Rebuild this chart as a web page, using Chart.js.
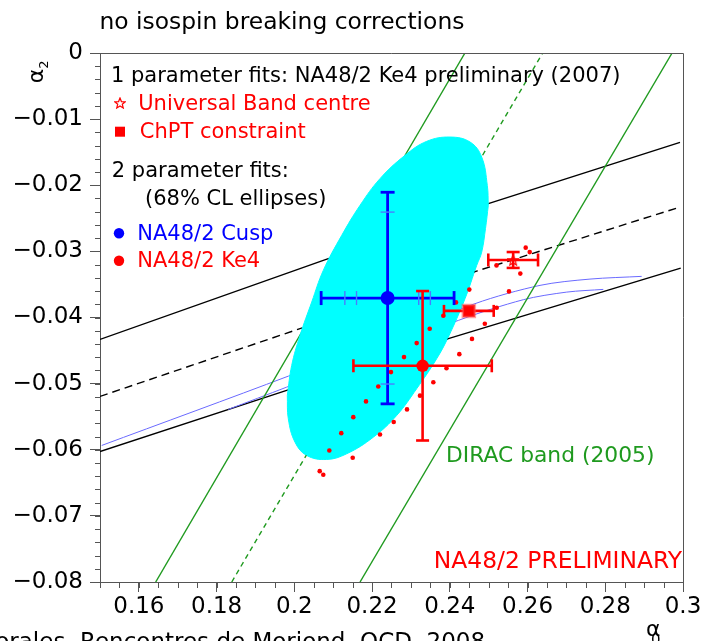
<!DOCTYPE html>
<html>
<head>
<meta charset="utf-8">
<script src="https://cdn.jsdelivr.net/npm/chart.js@4.4.1/dist/chart.umd.min.js"></script>
<style>
  html, body { margin: 0; padding: 0; background: #fff; }
  canvas { display: block; }
</style>
</head>
<body>
<canvas id="chart" width="708" height="641"></canvas>
<script>
// axis ticks
const xTicks = [0.16, 0.18, 0.2, 0.22, 0.24, 0.26, 0.28, 0.3];
const yTicks = [0, -0.01, -0.02, -0.03, -0.04, -0.05, -0.06, -0.07, -0.08];

// universal band (black), [a0, a2]
const ubUpper = [[0.15, -0.04331], [0.20745, -0.03137], [0.24991, -0.02278], [0.29923, -0.01351]];
const ubCentre = [[0.15, -0.05194], [0.20061, -0.04185], [0.24692, -0.03298], [0.29923, -0.02330]];
const ubLower = [[0.15, -0.06026], [0.19803, -0.05103], [0.24005, -0.04312], [0.29941, -0.03253]];

// cusp constraint curves (thin blue)
const cuspCurveUpper = [[0.15044, -0.05935], [0.19845, -0.04887], [0.24648, -0.03791], [0.26321, -0.03514], [0.27607, -0.03419], [0.28937, -0.03378]];
const cuspCurveLower = [[0.183, -0.0539], [0.19803, -0.05053], [0.24219, -0.04044], [0.25891, -0.03731], [0.27008, -0.03616], [0.27950, -0.03575]];

// DIRAC band (green)
const diracLeft = [[0.16433, -0.08], [0.2439, 0]];
const diracCentre = [[0.1839, -0.08], [0.2639, 0]];
const diracRight = [[0.2169, -0.08], [0.2972, 0]];

// 68% CL ellipse of the cusp fit, upper and lower arcs
const ellipseUpper = [[0.19819, -0.05179], [0.19932, -0.04725], [0.20146, -0.04271], [0.20447, -0.03767],
  [0.20745, -0.03288], [0.21219, -0.02758], [0.21690, -0.02304], [0.22204, -0.01900], [0.22847, -0.01548],
  [0.23406, -0.01336], [0.24005, -0.01271], [0.24520, -0.01346], [0.24821, -0.01573], [0.24965, -0.02002],
  [0.24991, -0.02304]];
const ellipseLower = [[0.19819, -0.05179], [0.19845, -0.05531], [0.20017, -0.05885], [0.20318, -0.06086],
  [0.20833, -0.06147], [0.21347, -0.06061], [0.22032, -0.05810], [0.22634, -0.05481], [0.23148, -0.05077],
  [0.23663, -0.04623], [0.23961, -0.04297], [0.24391, -0.03716], [0.24692, -0.03212], [0.24821, -0.03011],
  [0.24919, -0.02652], [0.24991, -0.02304]];

// Ke4 ellipse contour (red dots)
const ke4Band = [[0.20653, -0.06324], [0.20745, -0.06378], [0.20900, -0.06011], [0.21208, -0.05749],
  [0.21517, -0.05507], [0.21844, -0.05269], [0.22160, -0.05043], [0.22487, -0.04826], [0.22822, -0.04599],
  [0.23148, -0.04387], [0.23483, -0.04170], [0.23833, -0.03973], [0.24160, -0.03772], [0.24502, -0.03578],
  [0.25202, -0.03212], [0.25953, -0.02944],
  [0.21502, -0.06121], [0.22204, -0.05769], [0.22557, -0.05580], [0.22899, -0.05390], [0.23233, -0.05182],
  [0.23576, -0.04979], [0.23915, -0.04766], [0.24245, -0.04554], [0.24571, -0.04324], [0.24901, -0.04094],
  [0.25207, -0.03852], [0.25523, -0.03605], [0.25814, -0.03336], [0.26056, -0.03011]];

// fitted points: [a0, a2, error a0, error a2]
const cuspFit = [0.2240, -0.03706, 0.0171, 0.0160];
const cuspInnerA0 = [-0.011, -0.008, 0.008, 0.011];
const cuspInnerA2 = [-0.013, 0.013];
const ke4Fit = [0.2330, -0.0473, 0.0178, 0.0113];
const ubCentreFit = [0.2563, -0.0313, 0.0064, 0.0012];
const chptFit = [0.2449, -0.0390, 0.0064, 0];

const RED = '#ff0000', BLUE = '#0000ff', CYAN = '#00ffff', GREEN = '#1f9a1f', AXIS = '#555555';
const FONT = '"DejaVu Sans", Verdana, sans-serif';
const BACK = 50; // order value of the curves that lie under the ellipse

const pts = arr => arr.map(([x, y]) => ({x, y}));

function makeStar(size, color) {
  const c = document.createElement('canvas');
  c.width = c.height = size;
  const g = c.getContext('2d');
  g.strokeStyle = color;
  g.lineWidth = 1.2;
  g.beginPath();
  for (let i = 0; i < 10; i++) {
    const r = i % 2 ? size * 0.2 : size * 0.46;
    const ang = -Math.PI / 2 + i * Math.PI / 5;
    g.lineTo(size / 2 + r * Math.cos(ang), size / 2 + 0.5 + r * Math.sin(ang));
  }
  g.closePath();
  g.stroke();
  return c;
}
const starImg = makeStar(12, RED);

function curve(data, color, width, dash, tension) {
  return {
    data: pts(data), showLine: true, borderColor: color, borderWidth: width,
    borderDash: dash || [], pointRadius: 0, fill: false, order: BACK, tension: tension || 0
  };
}

function errorBars(p, color, width, cap, order) {
  const [x, y, ex, ey] = p;
  const sets = [{
    data: [{x: x - ex, y: y}, {x: x + ex, y: y}], showLine: true, borderColor: color, borderWidth: width,
    pointStyle: 'line', pointRotation: 90, pointRadius: cap, pointBorderColor: color,
    pointBorderWidth: width, fill: false, order: order
  }];
  if (ey > 0) {
    sets.push({
      data: [{x: x, y: y - ey}, {x: x, y: y + ey}], showLine: true, borderColor: color, borderWidth: width,
      pointStyle: 'line', pointRotation: 0, pointRadius: cap, pointBorderColor: color,
      pointBorderWidth: width, fill: false, order: order
    });
  }
  return sets;
}

function marker(p, style, radius, color, order) {
  return {
    data: [{x: p[0], y: p[1]}], showLine: false, pointStyle: style, pointRadius: radius,
    pointBackgroundColor: color, pointBorderColor: color, pointBorderWidth: 0, order: order
  };
}

const datasets = [
  // ellipse arcs: index 0 and 1, filled by the plugin below
  {data: pts(ellipseUpper), showLine: true, borderColor: CYAN, borderWidth: 1,
    fill: false, pointRadius: 0, tension: 0.4, order: 40},
  {data: pts(ellipseLower), showLine: true, borderColor: CYAN, borderWidth: 1,
    fill: false, pointRadius: 0, tension: 0.4, order: 40},

  curve(ubUpper, '#000', 1.4),
  curve(ubCentre, '#000', 1.4, [8, 5]),
  curve(ubLower, '#000', 1.4),
  curve(cuspCurveUpper, '#6a6aff', 1, null, 0.3),
  curve(cuspCurveLower, '#6a6aff', 1, null, 0.3),
  curve(diracLeft, GREEN, 1.4),
  curve(diracCentre, GREEN, 1.4, [5, 4]),
  curve(diracRight, GREEN, 1.4),

  {data: pts(ke4Band), showLine: false, pointStyle: 'circle', pointRadius: 2.3,
    pointBackgroundColor: RED, pointBorderWidth: 0, order: 30},

  // cusp fit
  ...errorBars(cuspFit, BLUE, 2.8, 7, 8),
  {data: cuspInnerA0.map(d => ({x: cuspFit[0] + d, y: cuspFit[1]})), showLine: false, pointStyle: 'line',
    pointRotation: 90, pointRadius: 7, pointBorderColor: '#4a7bff', pointBorderWidth: 1.4, order: 7},
  {data: cuspInnerA2.map(d => ({x: cuspFit[0], y: cuspFit[1] + d})), showLine: false, pointStyle: 'line',
    pointRotation: 0, pointRadius: 7, pointBorderColor: '#4a7bff', pointBorderWidth: 1.4, order: 7},
  marker(cuspFit, 'circle', 7, BLUE, 6),

  // Ke4 fit
  ...errorBars(ke4Fit, RED, 2.6, 6.5, 5),
  marker(ke4Fit, 'circle', 6.2, RED, 4),

  // one-parameter fits
  ...errorBars(ubCentreFit, RED, 2.6, 6.5, 5),
  {data: [{x: ubCentreFit[0], y: ubCentreFit[1]}], showLine: false, pointStyle: starImg, order: 3},
  ...errorBars(chptFit, RED, 2.6, 6, 5),
  {data: [{x: chptFit[0], y: chptFit[1]}], showLine: false, pointStyle: 'rect', pointRadius: 8.5,
    pointBackgroundColor: RED, pointBorderColor: 'rgba(255,80,80,0.55)', pointBorderWidth: 2.5, order: 3}
];

// draws the background curves, then the filled ellipse over them, in the ellipse's drawing slot
const ellipseLayer = {
  id: 'ellipseLayer',
  beforeDatasetDraw(chart, args) {
    if (args.meta.order === BACK) return false; // drawn below, under the ellipse
    if (args.index !== 0) return;
    const ctx = chart.ctx, a = chart.chartArea;
    ctx.save();
    ctx.beginPath();
    ctx.rect(a.left, a.top, a.right - a.left, a.bottom - a.top);
    ctx.clip();
    chart.data.datasets.forEach((ds, i) => {
      const meta = chart.getDatasetMeta(i);
      if (meta.order === BACK) meta.controller.draw();
    });
    const upper = chart.getDatasetMeta(0).dataset, lower = chart.getDatasetMeta(1).dataset;
    upper.updateControlPoints(a, 'x');
    lower.updateControlPoints(a, 'x');
    ctx.beginPath();
    upper.path(ctx);
    for (const seg of lower.segments) lower.pathSegment(ctx, seg, {move: false, reverse: true});
    ctx.closePath();
    ctx.fillStyle = CYAN;
    ctx.fill();
    ctx.restore();
  }
};

function text(ctx, str, x, y, size, color, align) {
  ctx.font = size + 'px ' + FONT;
  ctx.fillStyle = color;
  ctx.textAlign = align || 'left';
  ctx.textBaseline = 'alphabetic';
  ctx.fillText(str, x, y);
}

const decor = {
  id: 'decor',
  afterDraw(chart) {
    const ctx = chart.ctx, a = chart.chartArea, xs = chart.scales.x, ys = chart.scales.y;
    ctx.save();
    // frame and minor ticks
    ctx.strokeStyle = AXIS;
    ctx.lineWidth = 1;
    ctx.beginPath();
    ctx.moveTo(a.left, a.top + 0.5);
    ctx.lineTo(a.right + 0.5, a.top + 0.5);
    ctx.lineTo(a.right + 0.5, a.bottom);
    for (let i = 0; i <= 30; i++) {
      const px = Math.round(xs.getPixelForValue(0.15 + i * 0.005)) + 0.5;
      ctx.moveTo(px, a.bottom);
      ctx.lineTo(px, a.bottom + 6);
    }
    for (let i = 0; i <= 40; i++) {
      const py = Math.round(ys.getPixelForValue(-0.08 + i * 0.002)) + 0.5;
      ctx.moveTo(a.left, py);
      ctx.lineTo(a.left - 5, py);
    }
    ctx.stroke();

    // title and legend
    text(ctx, 'no isospin breaking corrections', 99.5, 29.3, 23.4, '#000');
    text(ctx, '1 parameter fits: NA48/2 Ke4 preliminary (2007)', 111, 81.7, 21, '#000');
    ctx.drawImage(starImg, 114, 97);
    text(ctx, 'Universal Band centre', 138.2, 110, 21, RED);
    ctx.fillStyle = RED;
    ctx.fillRect(115, 126.7, 10, 10);
    text(ctx, 'ChPT constraint', 139.8, 138.3, 21, RED);
    text(ctx, '2 parameter fits:', 111.8, 177.3, 21, '#000');
    text(ctx, '(68% CL ellipses)', 145, 205, 21, '#000');
    ctx.fillStyle = BLUE;
    ctx.beginPath(); ctx.arc(119, 233.3, 5.2, 0, Math.PI * 2); ctx.fill();
    text(ctx, 'NA48/2 Cusp', 137.3, 240, 21, BLUE);
    ctx.fillStyle = RED;
    ctx.beginPath(); ctx.arc(119, 260.7, 5.2, 0, Math.PI * 2); ctx.fill();
    text(ctx, 'NA48/2 Ke4', 137.3, 267.3, 21, RED);

    text(ctx, 'DIRAC band (2005)', 446, 461.7, 21.8, GREEN);
    text(ctx, 'NA48/2 PRELIMINARY', 682, 568.3, 23.4, RED, 'right');

    // axis titles
    text(ctx, '\u03b1', 646, 635.5, 22, '#000');
    text(ctx, '0', 651, 645, 15, '#000');
    ctx.save();
    ctx.translate(43.3, 83.3);
    ctx.rotate(-Math.PI / 2);
    text(ctx, '\u03b1', 0, 0, 22, '#000');
    text(ctx, '2', 14.5, 5, 13, '#000');
    ctx.restore();

    // reference line at the bottom, cut by the canvas edge
    ctx.font = '23px ' + FONT;
    const pre = 'C. Morales Morales, ';
    const w = ctx.measureText(pre).width;
    text(ctx, pre + 'Rencontres de Moriond, QCD, 2008', 80 - w, 648.5, 23, '#000');
    ctx.restore();
  }
};

new Chart(document.getElementById('chart'), {
  type: 'line',
  data: {datasets: datasets},
  options: {
    responsive: false,
    animation: false,
    events: [],
    layout: {padding: {top: 53, right: 25, left: 0, bottom: 0}},
    plugins: {legend: {display: false}, tooltip: {enabled: false}, title: {display: false}},
    scales: {
      x: {
        type: 'linear', min: 0.15, max: 0.3,
        afterBuildTicks: s => { s.ticks = xTicks.map(v => ({value: v})); },
        afterFit: s => { s.height = 59; },
        grid: {drawOnChartArea: false, drawTicks: true, tickLength: 10, color: AXIS},
        border: {color: AXIS},
        ticks: {font: {family: FONT, size: 23}, color: '#000', padding: 1, maxRotation: 0,
          autoSkip: false, callback: v => String(v)}
      },
      y: {
        type: 'linear', min: -0.08, max: 0,
        afterBuildTicks: s => { s.ticks = yTicks.map(v => ({value: v})); },
        afterFit: s => { s.width = 100; },
        grid: {drawOnChartArea: false, drawTicks: true, tickLength: 10, color: AXIS},
        border: {color: AXIS},
        ticks: {font: {family: FONT, size: 23}, color: '#000', padding: 7, autoSkip: false,
          callback: v => v === 0 ? '0' : '\u2212' + String(-v)}
      }
    }
  },
  plugins: [ellipseLayer, decor]
});
</script>
</body>
</html>
